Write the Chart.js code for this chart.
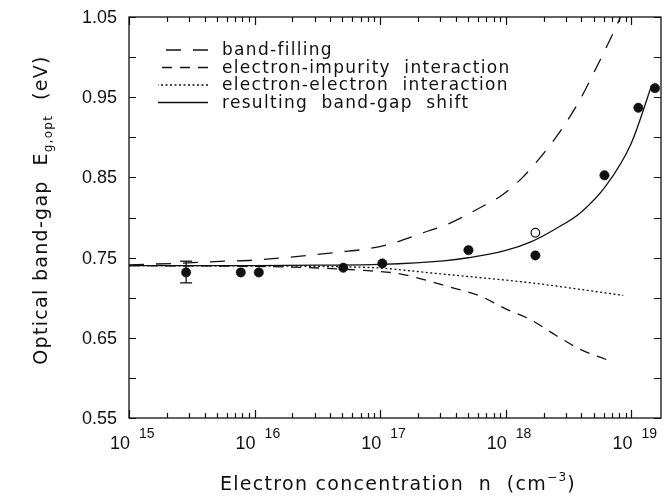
<!DOCTYPE html>
<html lang="en">
<head>
<meta charset="UTF-8">
<title>Optical band-gap vs electron concentration</title>
<style>
  html, body { margin: 0; padding: 0; background: #fff; }
  #wrap { width: 671px; height: 499px; position: relative; }
</style>
<script src="https://cdn.jsdelivr.net/npm/chart.js"></script>
</head>
<body>
<div id="wrap"><canvas id="gapChart"></canvas></div>
<script>
// measured points: electron concentration (cm^-3) and optical gap (eV)
const measuredN = [2.85e15, 7.76e15, 1.08e16, 5.08e16, 1.04e17, 5.04e17, 1.72e18, 6.10e18, 1.135e19, 1.54e19];
const measuredE = [0.7315, 0.7315, 0.7315, 0.7374, 0.7427, 0.7593, 0.7527, 0.8526, 0.9368, 0.9613];
const openN = [1.72e18];
const openE = [0.781];
const errN = [2.85e15, 2.85e15];
const errE = [0.7185, 0.7455];

// model curves
const fillN = [1e15, 2.54e15, 5.81e15, 1.03e16, 1.75e16, 4.78e16, 8.0e16, 1.27e17, 2.2e17, 3.6e17, 5.87e17, 9.55e17, 1.38e18, 2.0e18, 2.87e18, 3.9e18, 5.3e18, 7.16e18, 8.2e18];
const fillE = [0.741, 0.743, 0.7455, 0.747, 0.750, 0.757, 0.761, 0.768, 0.781, 0.793, 0.810, 0.829, 0.851, 0.880, 0.913, 0.947, 0.988, 1.030, 1.050];
const impN = [1e15, 1.03e16, 3.29e16, 7.43e16, 1.27e17, 1.84e17, 3.37e17, 6.24e17, 1.02e18, 1.56e18, 2.55e18, 3.9e18, 6.75e18];
const impE = [0.740, 0.739, 0.737, 0.734, 0.731, 0.726, 0.7145, 0.702, 0.6855, 0.673, 0.6523, 0.6357, 0.6212];
const eeN = [1e15, 1.03e16, 3.29e16, 9.95e16, 2.49e17, 6.24e17, 1.56e18, 3.9e18, 8.61e18];
const eeE = [0.740, 0.7395, 0.739, 0.737, 0.731, 0.725, 0.7187, 0.7104, 0.7029];
const totN = [1e15, 1e16, 3.2e16, 1e17, 3.2e17, 5e17, 1e18, 1.6e18, 2.5e18, 4e18, 6.3e18, 1e19, 1.45e19];
const totE = [0.740, 0.740, 0.7405, 0.7415, 0.746, 0.7498, 0.759, 0.770, 0.786, 0.807, 0.840, 0.893, 0.965];

const xDecades = [15, 16, 17, 18, 19];
const yTicks = [0.55, 0.65, 0.75, 0.85, 0.95, 1.05];

const ink = '#111';
const pts = (xs, ys) => xs.map((x, i) => ({ x: x, y: ys[i] }));

const curve = (label, xs, ys, dash) => ({
  label: label,
  data: pts(xs, ys),
  borderColor: ink,
  borderWidth: 1.3,
  borderDash: dash,
  pointRadius: 0,
  fill: false,
  cubicInterpolationMode: 'monotone',
  inLegend: true
});

function drawRich(ctx, segs, x, y, align) {
  let total = 0;
  segs.forEach(s => {
    ctx.font = s[1] + 'px "DejaVu Sans"';
    s.w = ctx.measureText(s[0]).width;
    total += s.w;
  });
  let cx = align === 'center' ? x - total / 2 : x;
  segs.forEach(s => {
    ctx.font = s[1] + 'px "DejaVu Sans"';
    ctx.fillText(s[0], cx, y + s[2]);
    cx += s.w;
  });
}

const framePlugin = {
  id: 'frame',
  afterDraw(chart) {
    const ctx = chart.ctx;
    const a = chart.chartArea;
    const xs = chart.scales.x, ys = chart.scales.y;
    ctx.save();
    ctx.strokeStyle = ink;
    ctx.fillStyle = ink;
    ctx.lineWidth = 1.3;
    ctx.setLineDash([]);
    ctx.strokeRect(a.left, a.top, a.right - a.left, a.bottom - a.top);

    // inward ticks, x axis (decades + minor 2..9)
    ctx.lineWidth = 1.2;
    ctx.beginPath();
    xDecades.forEach(d => {
      for (let m = 1; m <= 9; m++) {
        const v = m * Math.pow(10, d);
        if (v < xs.min || v > xs.max) continue;
        const px = Math.round(xs.getPixelForValue(v)) + 0.5;
        const len = m === 1 ? 8 : 5;
        ctx.moveTo(px, a.bottom); ctx.lineTo(px, a.bottom - len);
        ctx.moveTo(px, a.top); ctx.lineTo(px, a.top + len);
      }
    });
    // y axis ticks every 0.05
    for (let i = 0; i <= 10; i++) {
      const py = Math.round(ys.getPixelForValue(0.55 + i * 0.05)) + 0.5;
      ctx.moveTo(a.left, py); ctx.lineTo(a.left + 7, py);
      ctx.moveTo(a.right, py); ctx.lineTo(a.right - 7, py);
    }
    ctx.stroke();

    // tick labels
    ctx.font = '18px "Liberation Sans"';
    ctx.textAlign = 'right';
    ctx.textBaseline = 'middle';
    yTicks.forEach(v => {
      ctx.fillText(v.toFixed(2), a.left - 12, ys.getPixelForValue(v) + 1);
    });
    ctx.textBaseline = 'alphabetic';
    xDecades.forEach(d => {
      const px = xs.getPixelForValue(Math.pow(10, d));
      ctx.textAlign = 'right';
      ctx.font = '18px "Liberation Sans"';
      ctx.fillText('10', px + 1, 449);
      ctx.textAlign = 'left';
      ctx.font = '14px "Liberation Sans"';
      ctx.fillText(String(d), px + 10, 438);
    });

    // axis titles
    ctx.textAlign = 'left';
    ctx.letterSpacing = '1.3px';
    drawRich(ctx, [['Electron concentration  n  (cm', 19, 0], ['\u22123', 12, -9], [')', 19, 0]], 398, 490, 'center');
    ctx.save();
    ctx.translate(40, 210);
    ctx.rotate(-Math.PI / 2);
    drawRich(ctx, [['Optical band-gap  E', 19, 0], ['g,opt', 12, 5], ['  (eV)', 19, 0]], 0, 7, 'center');
    ctx.restore();

    // legend
    let row = 0;
    chart.data.datasets.forEach(ds => {
      if (!ds.inLegend) return;
      const yRow = 50 + row * 17.5;
      ctx.lineWidth = 1.3;
      ctx.setLineDash(ds.borderDash || []);
      ctx.beginPath();
      ctx.moveTo(208, yRow);
      ctx.lineTo(158, yRow);
      ctx.stroke();
      ctx.setLineDash([]);
      ctx.font = '17px "DejaVu Sans"';
      ctx.fillText(ds.label, 222, yRow + 5);
      row++;
    });
    ctx.restore();
  }
};

new Chart(document.getElementById('gapChart'), {
  type: 'line',
  data: {
    datasets: [
      curve('band-filling', fillN, fillE, [15, 12]),
      curve('electron-impurity  interaction', impN, impE, [10, 8]),
      curve('electron-electron  interaction', eeN, eeE, [2, 2.5]),
      curve('resulting  band-gap  shift', totN, totE, []),
      {
        label: 'error',
        data: pts(errN, errE),
        borderColor: ink,
        borderWidth: 1.3,
        pointStyle: 'line',
        pointRadius: 6,
        pointBorderWidth: 1.3,
        pointBorderColor: ink
      },
      {
        label: 'measured',
        data: pts(measuredN, measuredE),
        showLine: false,
        pointRadius: 4.7,
        pointBackgroundColor: ink,
        pointBorderColor: ink,
        pointBorderWidth: 0.5
      },
      {
        label: 'open',
        data: pts(openN, openE),
        showLine: false,
        pointRadius: 4.3,
        pointBackgroundColor: '#fff',
        pointBorderColor: ink,
        pointBorderWidth: 1.2
      }
    ]
  },
  options: {
    responsive: true,
    maintainAspectRatio: false,
    animation: false,
    layout: { padding: { left: 129, right: 10, top: 17, bottom: 81 } },
    plugins: { legend: { display: false }, tooltip: { enabled: false } },
    scales: {
      x: { type: 'logarithmic', min: 1e15, max: 1.72e19, display: false },
      y: { type: 'linear', min: 0.55, max: 1.05, display: false }
    }
  },
  plugins: [framePlugin]
});
</script>
</body>
</html>
